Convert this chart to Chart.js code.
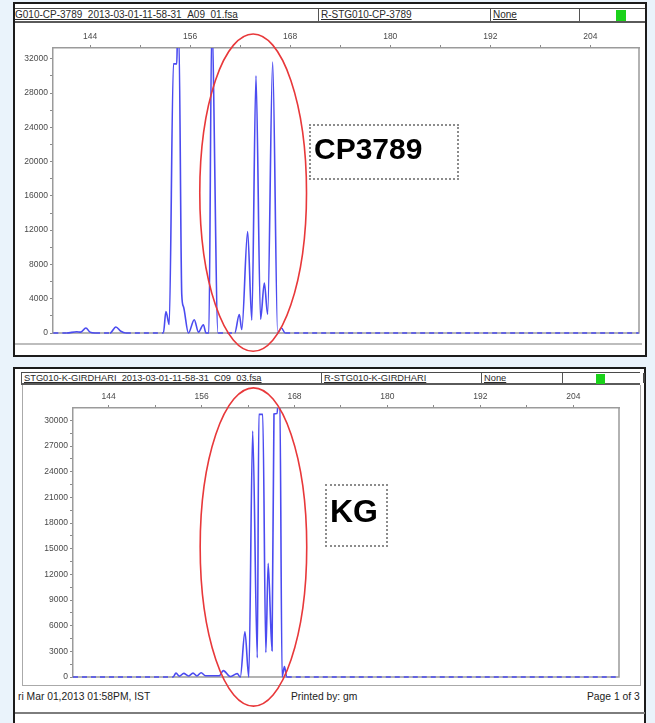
<!DOCTYPE html>
<html lang="en">
<head>
<meta charset="utf-8">
<title>CP3789 / KG electropherograms</title>
<script src="https://cdn.jsdelivr.net/npm/chart.js@4.4.1/dist/chart.umd.min.js"></script>
<style>
  html, body { margin: 0; padding: 0; }
  body { position: relative; width: 655px; height: 723px; overflow: hidden; background: #eaf3fb;
         font-family: 'Liberation Sans', Arial, Helvetica, sans-serif; color: #222; }
  .abs { position: absolute; box-sizing: border-box; }
  .panel { background: #fff; border: 2px solid #1b1b1b; }
  .hdr { border-top: 1px solid #4a4a4a; border-bottom: 2px solid #5a5a5a; }
  .cell { position: absolute; top: 0; bottom: 0; border-left: 1px solid #555; white-space: nowrap;
          text-decoration: underline; padding-left: 2px; color: #2a2a2a; }
  .green { position: absolute; background: #1ad21a; }
  .note { border: 2px dotted #8c8c8c; }
  .big { font-weight: bold; color: #000; white-space: nowrap; }
  .rule { background: #bdbdbd; }
  .foot { font-size: 10.3px; line-height: 12px; color: #222; white-space: nowrap; }
  canvas { position: absolute; }
</style>
</head>
<body>

<!-- upper panel: CP3789 -->
<div class="abs panel" style="left:13px; top:2px; width:634px; height:355px;"></div>
<div class="abs hdr" style="left:15px; top:8px; width:630px; height:15px; font-size:10px; line-height:12px;">
  <div class="cell" style="left:0; width:303px; border-left:none; padding-left:0;">G010-CP-3789_2013-03-01-11-58-31_A09_01.fsa</div>
  <div class="cell" style="left:303px; width:172px;">R-STG010-CP-3789</div>
  <div class="cell" style="left:475px; width:89px;">None</div>
  <div class="cell" style="left:564px; width:66px; text-decoration:none;"></div>
  <div class="green" style="left:601px; top:1px; width:10px; height:11px;"></div>
</div>
<div class="abs rule" style="left:15px; top:343px; width:627px; height:2px;"></div>
<canvas id="cpChart" width="630" height="332" style="left:15px; top:24px;"></canvas>
<div class="abs note" style="left:309px; top:124px; width:150px; height:56px;"></div>
<div class="abs big" style="left:314px; top:134px; font-size:30px; line-height:30px;">CP3789</div>

<!-- lower panel: KG -->
<div class="abs panel" style="left:13px; top:367px; width:633px; height:370px;"></div>
<div class="abs hdr" style="left:21px; top:372px; width:619px; height:13px; font-size:9.3px; line-height:11px;">
  <div class="cell" style="left:0; width:300px; padding-left:2px;">STG010-K-GIRDHARI_2013-03-01-11-58-31_C09_03.fsa</div>
  <div class="cell" style="left:300px; width:160px;">R-STG010-K-GIRDHARI</div>
  <div class="cell" style="left:460px; width:81px;">None</div>
  <div class="cell" style="left:541px; width:78px; border-right:2px solid #444; text-decoration:none;"></div>
  <div class="green" style="left:575px; top:1px; width:9px; height:10px;"></div>
</div>
<div class="abs" style="left:22px; top:385px; width:1px; height:301px; background:#aaa;"></div>
<div class="abs" style="left:640px; top:385px; width:1px; height:301px; background:#aaa;"></div>
<div class="abs" style="left:22px; top:685px; width:619px; height:1px; background:#aaa;"></div>
<div class="abs" style="left:15px; top:712px; width:630px; height:2px; background:#7d7d7d;"></div>
<div class="abs foot" style="left:18px; top:691px;">ri Mar 01,2013 01:58PM, IST</div>
<div class="abs foot" style="left:291px; top:691px;">Printed by: gm</div>
<div class="abs foot" style="left:587px; top:691px;">Page 1 of 3</div>
<canvas id="kgChart" width="630" height="337" style="left:15px; top:386px;"></canvas>
<div class="abs note" style="left:325px; top:484px; width:63px; height:63px;"></div>
<div class="abs big" style="left:330px; top:495px; font-size:32px; line-height:32px;">KG</div>

<script>
// size axis (bp) shared by both traces
const sizeTicks = [144, 150, 156, 162, 168, 174, 180, 186, 192, 198, 204];
const sizeLabelStep = 12;

// CP3789 trace: fragment size (bp) and peak height (RFU)
const cpSize = [139.6, 141.2, 142.4, 142.9, 143.5, 144.0, 144.6, 146.4, 147.1, 147.7, 148.3,
  152.8, 153.1, 153.5, 154.0, 154.4, 154.5, 154.65, 155.0, 155.2, 155.8, 156.5, 157.0, 157.6,
  157.9, 158.25, 158.6, 159.35, 161.35, 161.9, 162.2, 162.9, 163.4, 163.9, 164.45, 164.9,
  165.3, 165.9, 166.5, 166.95, 167.4, 209.8];
const cpHeight = [0, 0, 150, 100, 580, 100, 0, 0, 700, 200, 0,
  0, 2500, 1000, 31400, 31400, 35000, 35000, 4500, 3100, 0, 1550, 100, 970,
  0, 0, 36000, 0, 0, 2150, 400, 11850, 1500, 30000, 1600, 5830,
  2200, 31600, 0, 580, 0, 0];
const cpYTicks = [0, 2000, 4000, 6000, 8000, 10000, 12000, 14000, 16000, 18000, 20000,
  22000, 24000, 26000, 28000, 30000, 32000];
const cpYLabelStep = 4000;

// KG trace
const kgSize = [139.4, 152.3, 152.7, 153.15, 153.7, 154.3, 154.9, 155.4, 155.95, 156.5, 158.3,
  158.8, 159.7, 160.6, 161.0, 161.6, 162.1, 162.6, 163.2, 163.4, 163.9, 164.3, 164.6, 165.1,
  165.35, 165.75, 165.95, 166.1, 166.4, 166.7, 167.0, 209.8];
const kgHeight = [0, 0, 450, 100, 420, 120, 450, 120, 500, 150, 150,
  750, 50, 400, 0, 5270, 0, 28750, 2250, 30700, 30700, 2870, 13290, 3070,
  30750, 30800, 33000, 33000, 0, 1230, 0, 0];
const kgYTicks = [0, 1500, 3000, 4500, 6000, 7500, 9000, 10500, 12000, 13500, 15000, 16500,
  18000, 19500, 21000, 22500, 24000, 25500, 27000, 28500, 30000];
const kgYLabelStep = 3000;

Chart.defaults.font.family = "'Liberation Sans', Arial, sans-serif";

/** Gray right and bottom edges of the plot box (top/left come from the axes). */
const framePlugin = {
  id: 'plotFrame',
  beforeDatasetsDraw: (chart) => {
    const { ctx, chartArea: a } = chart;
    ctx.save();
    ctx.strokeStyle = '#9b9b9b';
    ctx.lineWidth = 1.5;
    ctx.beginPath();
    ctx.moveTo(a.left, a.bottom);
    ctx.lineTo(a.right, a.bottom);
    ctx.lineTo(a.right, a.top);
    ctx.stroke();
    ctx.restore();
  },
};

/** Red hand-drawn style ellipse round the allele region, given in data units. */
const ellipsePlugin = {
  id: 'markEllipse',
  afterDatasetsDraw: (chart) => {
    const o = chart.options.plugins.markEllipse;
    if (!o || !o.show) return;
    const { ctx, scales: { x, y } } = chart;
    const cx = x.getPixelForValue(o.cx);
    const cy = y.getPixelForValue(o.cy);
    const rx = Math.abs(x.getPixelForValue(o.cx + o.rx) - cx);
    const ry = Math.abs(y.getPixelForValue(o.cy + o.ry) - cy);
    ctx.save();
    ctx.beginPath();
    ctx.ellipse(cx, cy, rx, ry, 0, 0, Math.PI * 2);
    ctx.strokeStyle = '#e8383a';
    ctx.lineWidth = 1.6;
    ctx.stroke();
    ctx.restore();
  },
};

const drawTrace = (id, sizes, heights, cfg) => {
  const points = sizes.map((s, i) => ({ x: s, y: heights[i] }));
  return new Chart(document.getElementById(id), {
    type: 'line',
    data: {
      datasets: [{
        data: points,
        borderColor: '#4b4bf0',
        borderWidth: 1.6,
        pointRadius: 0,
        fill: false,
        cubicInterpolationMode: 'monotone',
        clip: { left: 0, top: 0, right: 0, bottom: 3 },
        segment: {
          // flat baseline stretches read as a broken dashed trace
          borderDash: (c) => (c.p0.parsed.y === 0 && c.p1.parsed.y === 0 ? [5, 4] : undefined),
        },
      }],
    },
    plugins: [framePlugin, ellipsePlugin],
    options: {
      responsive: false,
      animation: false,
      events: [],
      layout: { padding: cfg.padding },
      plugins: {
        legend: { display: false },
        tooltip: { enabled: false },
        markEllipse: { show: true, ...cfg.ellipse },
      },
      scales: {
        x: {
          type: 'linear',
          position: 'top',
          min: cfg.xMin,
          max: cfg.xMax,
          afterBuildTicks: (axis) => { axis.ticks = sizeTicks.map((v) => ({ value: v })); },
          afterFit: (axis) => { axis.height = cfg.xAxisHeight; },
          grid: { drawOnChartArea: false, tickLength: 3, color: '#8a8a8a' },
          border: { display: true, color: '#9b9b9b', width: 1.5 },
          ticks: {
            autoSkip: false, maxRotation: 0, padding: 3, color: '#4a4a4a', font: { size: 8.5 },
            callback: (v) => (v % sizeLabelStep === 0 ? String(v) : ''),
          },
        },
        y: {
          type: 'linear',
          position: 'left',
          min: 0,
          max: cfg.yMax,
          afterBuildTicks: (axis) => { axis.ticks = cfg.yTicks.map((v) => ({ value: v })); },
          afterFit: (axis) => { axis.width = cfg.yAxisWidth; },
          grid: { drawOnChartArea: false, tickLength: 3, color: '#8a8a8a' },
          border: { display: true, color: '#9b9b9b', width: 1.5 },
          ticks: {
            autoSkip: false, padding: 2, color: '#4a4a4a', font: { size: 8.5 },
            callback: (v) => (v % cfg.yLabelStep === 0 ? String(v) : ''),
          },
        },
      },
    },
  });
};

drawTrace('cpChart', cpSize, cpHeight, {
  xMin: 139.56, xMax: 209.83, yMax: 33250,
  yTicks: cpYTicks, yLabelStep: cpYLabelStep,
  yAxisWidth: 38, xAxisHeight: 24,
  padding: { left: 0, top: 0, right: 6, bottom: 23 },
  ellipse: { cx: 163.56, cy: 16375, rx: 6.4, ry: 18510 },
});

drawTrace('kgChart', kgSize, kgHeight, {
  xMin: 139.4, xMax: 209.9, yMax: 31450,
  yTicks: kgYTicks, yLabelStep: kgYLabelStep,
  yAxisWidth: 58, xAxisHeight: 22,
  padding: { left: 0, top: 0, right: 26, bottom: 46 },
  ellipse: { cx: 162.7, cy: 15200, rx: 6.88, ry: 18600 },
});
</script>
</body>
</html>
